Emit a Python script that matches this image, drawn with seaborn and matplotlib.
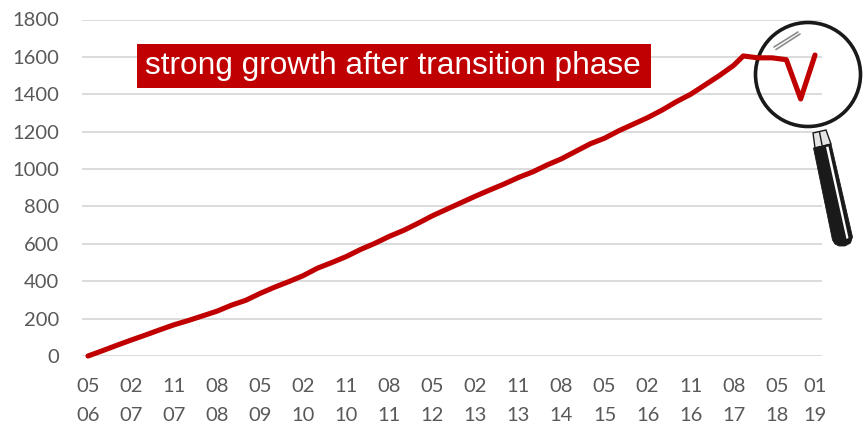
#!/usr/bin/env python
# -*- coding: utf-8 -*-

import pandas as pd

import matplotlib.pyplot as plt
import matplotlib.patches as mpatches
from matplotlib.transforms import Affine2D
import seaborn as sns

## =============================== ##
## data: months since 05/06 and the value

MONTHS = [0, 3, 6, 9, 12, 15, 18, 21, 24, 27, 30, 33, 36, 39, 42, 45, 48, 51, 54, 57,
          60, 63, 66, 69, 72, 75, 78, 81, 84, 87, 90, 93, 96, 99, 102, 105, 108, 111, 114, 117,
          120, 123, 126, 129, 132, 135, 137, 140, 143, 146, 149, 152]
VALUES = [0, 28, 57, 85, 112, 140, 167, 190, 215, 240, 272, 298, 335, 368, 398, 430, 470, 500, 532, 570,
          603, 640, 672, 710, 750, 785, 820, 855, 888, 920, 955, 985, 1022, 1055, 1095, 1135, 1165, 1205, 1240, 1275,
          1315, 1360, 1400, 1450, 1500, 1555, 1605, 1595, 1595, 1585, 1375, 1610]

TICK_MONTHS = [0, 9, 18, 27, 36, 45, 54, 63, 72, 81, 90, 99, 108, 117, 126, 135, 144, 152]
TICK_LABELS = ['05\n06', '02\n07', '11\n07', '08\n08', '05\n09', '02\n10', '11\n10', '08\n11', '05\n12',
               '02\n13', '11\n13', '08\n14', '05\n15', '02\n16', '11\n16', '08\n17', '05\n18', '01\n19']
Y_TICKS = [0, 200, 400, 600, 800, 1000, 1200, 1400, 1600, 1800]

TITLE = 'strong growth after transition phase'

RED = '#C00000'
GRID = '#D9D9D9'
GREY = '#595959'
INK = '#1A1A1A'

W, H = 866, 425

## =============================== ##

df = pd.DataFrame({'month': MONTHS, 'value': VALUES})

sns.set_style('white')
plt.rcParams['font.family'] = ['Lato', 'DejaVu Sans']

fig = plt.figure(figsize=(W / 100, H / 100), dpi=100)
ax = fig.add_axes([82 / W, 1 - 356 / H, (822 - 82) / W, (356 - 19.5) / H])
ax.patch.set_alpha(0)

# box and magnifier are placed in picture pixels, y downwards
px = Affine2D().scale(1 / W, -1 / H).translate(0, 1) + fig.transFigure

ax.set_yticks(Y_TICKS)
ax.set_xticks(TICK_MONTHS)
ax.set_xticklabels(TICK_LABELS, linespacing=1.9)
ax.tick_params(axis='both', length=0, labelsize=14.5, labelcolor=GREY)
ax.tick_params(axis='x', pad=15.5)
ax.tick_params(axis='y', pad=16.5)
ax.yaxis.grid(True, color=GRID, lw=1.3)
ax.xaxis.grid(False)
ax.set_axisbelow(True)
sns.despine(ax=ax, left=True, bottom=True, top=True, right=True)

ax.add_patch(mpatches.Rectangle((137, 44), 514, 44, transform=px, fc=RED, ec='none', zorder=6, clip_on=False))
ax.text(145, 66, TITLE, transform=px, ha='left', va='center', color='white',
        fontsize=22.75, family='Liberation Sans', zorder=7)

## =============================== ##
## magnifying glass

neck = mpatches.Polygon([(813, 133), (826, 130), (831, 144), (815, 148)], transform=px, fc='#E4E4E4', ec=INK,
                        lw=1.0, zorder=2.5, clip_on=False)
grip = mpatches.Polygon([(813.5, 148), (831, 144), (852.5, 237), (850.5, 243), (845, 246), (839, 246), (835, 244), (832.5, 240)],
                        transform=px, fc=INK, ec=INK, lw=0.6, zorder=4, clip_on=False)
shine = mpatches.Polygon([(826, 147), (828.5, 146.5), (848.5, 238), (846.5, 239)], transform=px, fc='white', ec='none',
                         zorder=4.5, clip_on=False)
lens = mpatches.Ellipse((808, 74.5), 105, 104, transform=px, fc='none', ec=INK, lw=2.6, zorder=3, clip_on=False)
for p in [neck, grip, shine, lens]:
    ax.add_patch(p)
ax.plot([819.5, 822], [132, 145], color=INK, lw=1.0, transform=px, zorder=3, clip_on=False)
ax.plot([774, 798], [47, 32], color='#8C8C8C', lw=1.2, transform=px, zorder=3.5, clip_on=False)
ax.plot([776, 800], [49.5, 34], color='#8C8C8C', lw=1.2, transform=px, zorder=3.5, clip_on=False)

sns.lineplot(ax=ax, data=df, x='month', y='value', color=RED, lw=3.7, zorder=5, errorbar=None,
             solid_capstyle='round', solid_joinstyle='round', clip_on=False)
ax.set_xlabel('')
ax.set_ylabel('')
# months scale so that 0 sits at x=88 and 152 at x=815
ax.set_xlim((82 - 88) / 4.783, (822 - 88) / 4.783)
ax.set_ylim(0, 1800)

fig.savefig('out.png', dpi=100)
